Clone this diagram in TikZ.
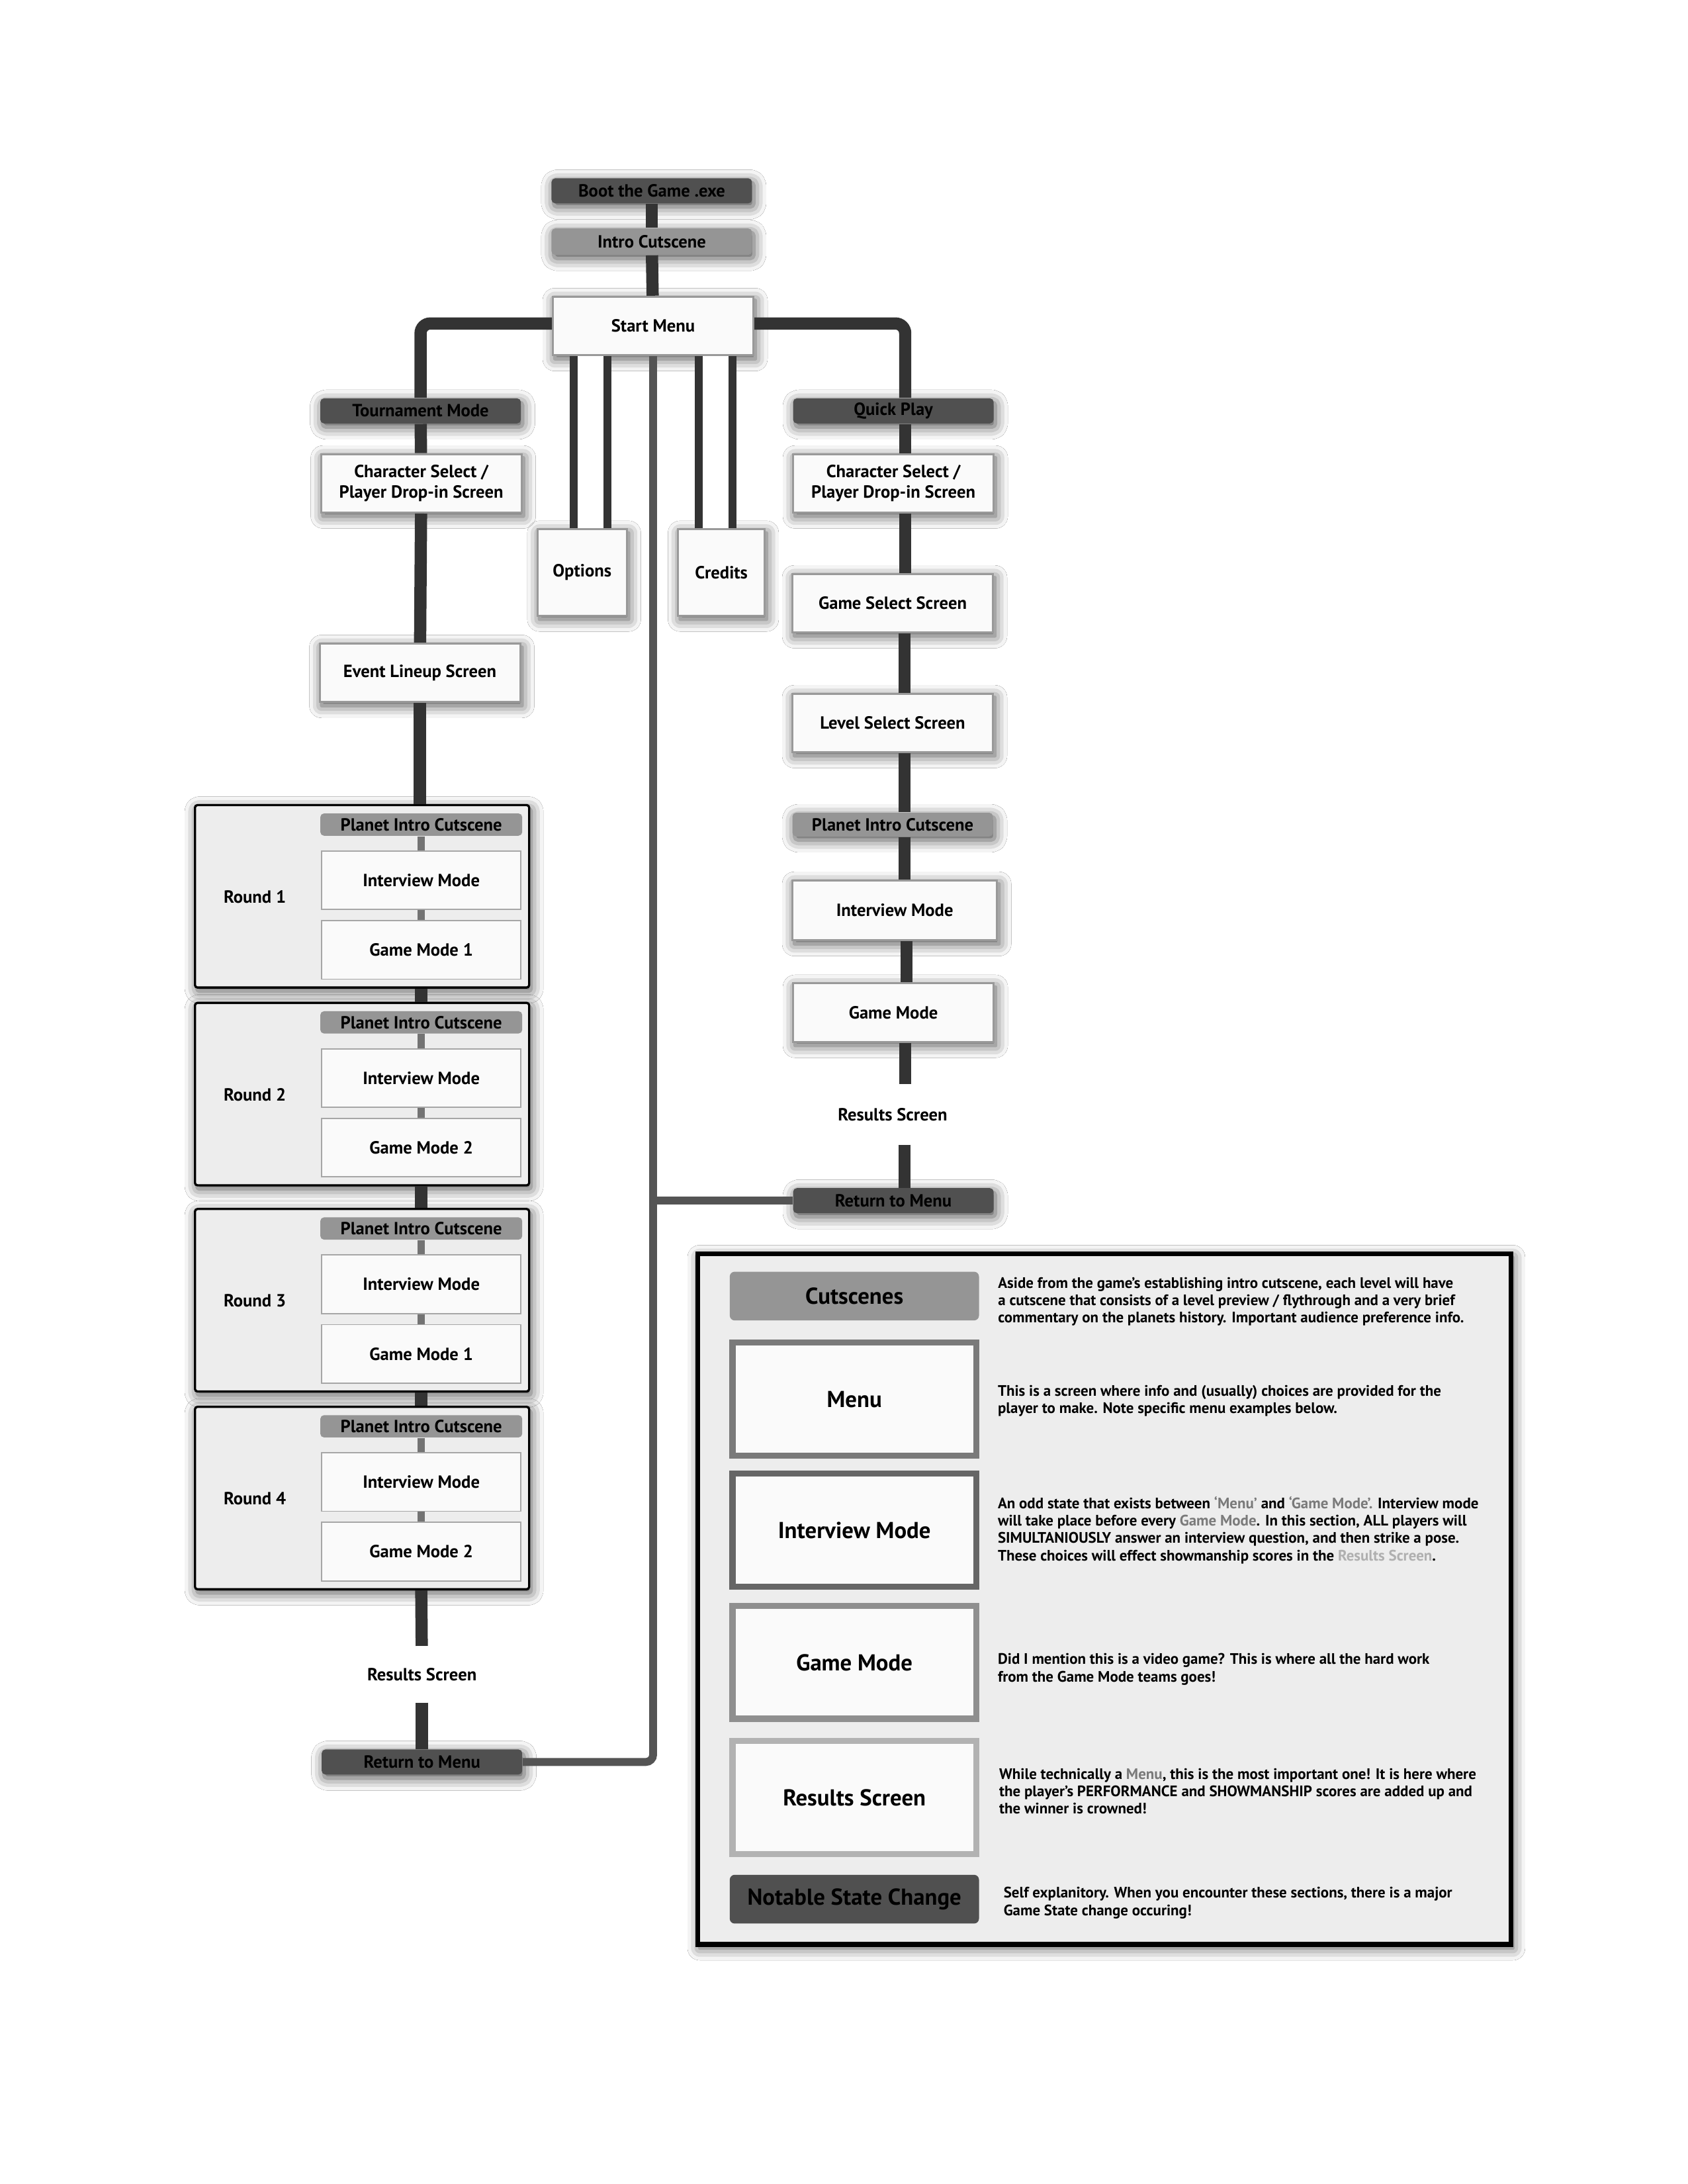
\documentclass[tikz,border=0pt]{standalone}
\usepackage{fontspec}
\setmainfont{PT Sans}
\usetikzlibrary{positioning,shadows.blur}

\definecolor{statedark}{HTML}{505050}
\definecolor{cutgray}{HTML}{959595}
\definecolor{bardark}{HTML}{333333}
\definecolor{panelgray}{HTML}{EDEDED}
\definecolor{boxwhite}{HTML}{FAFAFA}
\definecolor{notegray}{HTML}{7A7A7A}
\definecolor{notelight}{HTML}{B0B0B0}

\tikzset{
  softshadow/.style={blur shadow={shadow xshift=0.8pt, shadow yshift=-1.5pt, shadow blur radius=5pt, shadow opacity=70}},
  labelfont/.style={font=\fontsize{7.2}{8.6}\selectfont\bfseries},
  screen/.style={draw=black!40, line width=0.8pt, fill=boxwhite, minimum width=2.88cm, minimum height=0.84cm, align=center, labelfont},
  statechange/.style={fill=statedark, rounded corners=1.5pt, minimum width=2.88cm, minimum height=0.36cm, inner sep=0pt, labelfont},
  cutscene/.style={statechange, fill=cutgray},
  plainlabel/.style={labelfont, minimum height=0.8cm},
  roundpanel/.style={draw=black, fill=panelgray, line width=0.9pt, rounded corners=1pt, minimum width=4.8cm, minimum height=2.62cm, softshadow},
  innerbox/.style={draw=black!35, line width=0.5pt, fill=boxwhite, minimum width=2.86cm, minimum height=0.84cm, labelfont},
  bar/.style={draw=bardark, line width=5pt},
  innerbar/.style={draw=black!55, line width=2.8pt},
  midline/.style={draw=black!67, line width=3.2pt, rounded corners=3pt},
  sidebar/.style={draw=bardark, line width=3.2pt, double=white, double distance=10.6pt},
  keyfont/.style={font=\fontsize{9.4}{11}\selectfont\bfseries},
  keybox/.style={fill=boxwhite, line width=2.5pt, minimum width=3.5cm, minimum height=1.62cm, keyfont},
  keydesc/.style={anchor=west, inner sep=0pt, align=left, font=\fontsize{6.2}{7.1}\selectfont\bfseries},
}

\begin{document}
\begin{tikzpicture}[x=0.02cm, y=-0.02cm]
\fill[white] (0,0) rectangle (1212,1568);
\useasboundingbox (0,0) rectangle (1212,1568);

% top of the flow
\node[statechange, softshadow] (boot) at (468,137) {Boot the Game .exe};
\node[cutscene, softshadow, minimum height=0.38cm] (intro) at (468,173.5) {Intro Cutscene};
\node[screen, softshadow] (start) at (469,234) {Start Menu};
\node[screen, softshadow, minimum width=1.28cm, minimum height=1.24cm] (opt) at (418,411) {Options};
\node[screen, softshadow, minimum width=1.24cm, minimum height=1.24cm] (cred) at (518,411) {Credits};

% tournament side
\node[statechange, softshadow] (tour) at (302,295) {Tournament Mode};
\node[screen, softshadow] (chars1) at (302.5,347) {Character Select /\\Player Drop-in Screen};
\node[screen, softshadow] (event) at (301.5,483) {Event Lineup Screen};
\foreach \ytop/\rnd/\gm in {578/1/1, 720/2/2, 868/3/1, 1010/4/2} {
  \node[roundpanel] (round\rnd) at (260,\ytop+65.5) {};
  \node[plainlabel] (rlabel\rnd) at (183,\ytop+66) {Round \rnd};
  \node[cutscene, minimum width=2.9cm, minimum height=0.32cm] (planet\rnd) at (302.5,\ytop+14) {Planet Intro Cutscene};
  \node[innerbox] (interview\rnd) at (302.5,\ytop+54) {Interview Mode};
  \node[innerbox] (game\rnd) at (302.5,\ytop+104) {Game Mode \gm};
  \draw[innerbar] (planet\rnd) -- (interview\rnd);
  \draw[innerbar] (interview\rnd) -- (game\rnd);
}
\node[plainlabel] (resL) at (303,1202) {Results Screen};
\node[statechange, softshadow] (ret1) at (303,1265) {Return to Menu};

% quick play side
\node[statechange, softshadow] (qp) at (641.5,295) {Quick Play};
\node[screen, softshadow] (chars2) at (641.5,347) {Character Select /\\Player Drop-in Screen};
\node[screen, softshadow] (gsel) at (641,433) {Game Select Screen};
\node[screen, softshadow] (lsel) at (641,519) {Level Select Screen};
\node[cutscene, softshadow, minimum height=0.34cm] (planetR) at (641,592) {Planet Intro Cutscene};
\node[screen, softshadow, minimum width=2.94cm, minimum height=0.86cm] (intR) at (642.5,653.5) {Interview Mode};
\node[screen, softshadow] (gmR) at (641.5,727) {Game Mode};
\node[plainlabel, minimum height=0.86cm] (resR) at (641,800) {Results Screen};
\node[statechange, softshadow] (ret2) at (641.5,862) {Return to Menu};

% connectors
\draw[bar] (boot) -- (intro);
\draw[bar] (intro) -- (start);
\draw[bar, rounded corners=4pt] ([yshift=1pt]start.west) -| (tour.north);
\draw[bar, rounded corners=4pt] ([yshift=1pt]start.east) -| ([xshift=0.17cm]qp.north);
\draw[sidebar] ([xshift=0.12cm]opt.north) -- ([xshift=0.12cm]opt.north |- start.south);
\draw[sidebar] ([xshift=-0.08cm]cred.north) -- ([xshift=-0.08cm]cred.north |- start.south);
\draw[midline] (start.south) |- (ret1.east);
\draw[midline] (ret2.west) -- (ret2.west -| start.south);

\draw[bar] (tour) -- (chars1);
\draw[bar] (chars1) -- (event);
\draw[bar] (event.south) -- (event.south |- round1.north);
\foreach \a/\b in {1/2, 2/3, 3/4}
  \draw[bar] (game\a.south |- round\a.south) -- (planet\b.north |- round\b.north);
\draw[bar] (game4.south |- round4.south) -- (resL);
\draw[bar] (resL) -- (ret1);

\foreach \a/\b in {qp/chars2, chars2/gsel, gsel/lsel, lsel/planetR, planetR/intR, intR/gmR, gmR/resR, resR/ret2}
  \draw[bar] ([xshift=0.17cm]\a.south) -- ([xshift=0.17cm]\a.south |- \b.north);

% key
\node[draw=black, line width=2pt, fill=panelgray, minimum width=11.68cm, minimum height=9.92cm, softshadow] (legend) at (793,1148) {};
\node[fill=cutgray, rounded corners=2pt, minimum width=3.58cm, minimum height=0.7cm, keyfont] (cutsKey) at (613.5,930.5) {Cutscenes};
\node[keybox, draw=notegray] (menuKey) at (613.5,1004.5) {Menu};
\node[keybox, draw=black!60] (intKey) at (613.5,1098.5) {Interview Mode};
\node[keybox, draw=black!44] (gmKey) at (613.5,1193.5) {Game Mode};
\node[keybox, draw=black!30] (resKey) at (613.5,1290.5) {Results Screen};
\node[fill=statedark, rounded corners=2pt, minimum width=3.58cm, minimum height=0.7cm, keyfont] (nscKey) at (613.5,1363.5) {Notable State Change};

\node[keydesc, right=0.26cm of cutsKey, yshift=-2.3pt] (cutsText) {Aside from the game’s establishing intro cutscene, each level will have\\a cutscene that consists of a level preview / flythrough and a very brief\\commentary on the planets history. Important audience preference info.};
\node[keydesc, right=0.26cm of menuKey, yshift=-0.8pt] (menuText) {This is a screen where info and (usually) choices are provided for the\\player to make. Note specific menu examples below.};
\node[keydesc, right=0.26cm of intKey] (intText) {An odd state that exists between \textcolor{notegray}{‘Menu’} and \textcolor{notegray}{‘Game Mode’.} Interview mode\\will take place before every \textcolor{notegray}{Game Mode}. In this section, ALL players will\\SIMULTANIOUSLY answer an interview question, and then strike a pose.\\These choices will effect showmanship scores in the \textcolor{notelight}{Results Screen}.};
\node[keydesc, right=0.26cm of gmKey, yshift=-2.8pt] (gmText) {Did I mention this is a video game? This is where all the hard work\\from the Game Mode teams goes!};
\node[keydesc, right=0.28cm of resKey, yshift=2.6pt] (resText) {While technically a \textcolor{notegray}{Menu}, this is the most important one! It is here where\\the player’s PERFORMANCE and SHOWMANSHIP scores are added up and\\the winner is crowned!};
\node[keydesc, right=0.34cm of nscKey, yshift=-1.5pt] (nscText) {Self explanitory. When you encounter these sections, there is a major\\Game State change occuring!};
\end{tikzpicture}
\end{document}
